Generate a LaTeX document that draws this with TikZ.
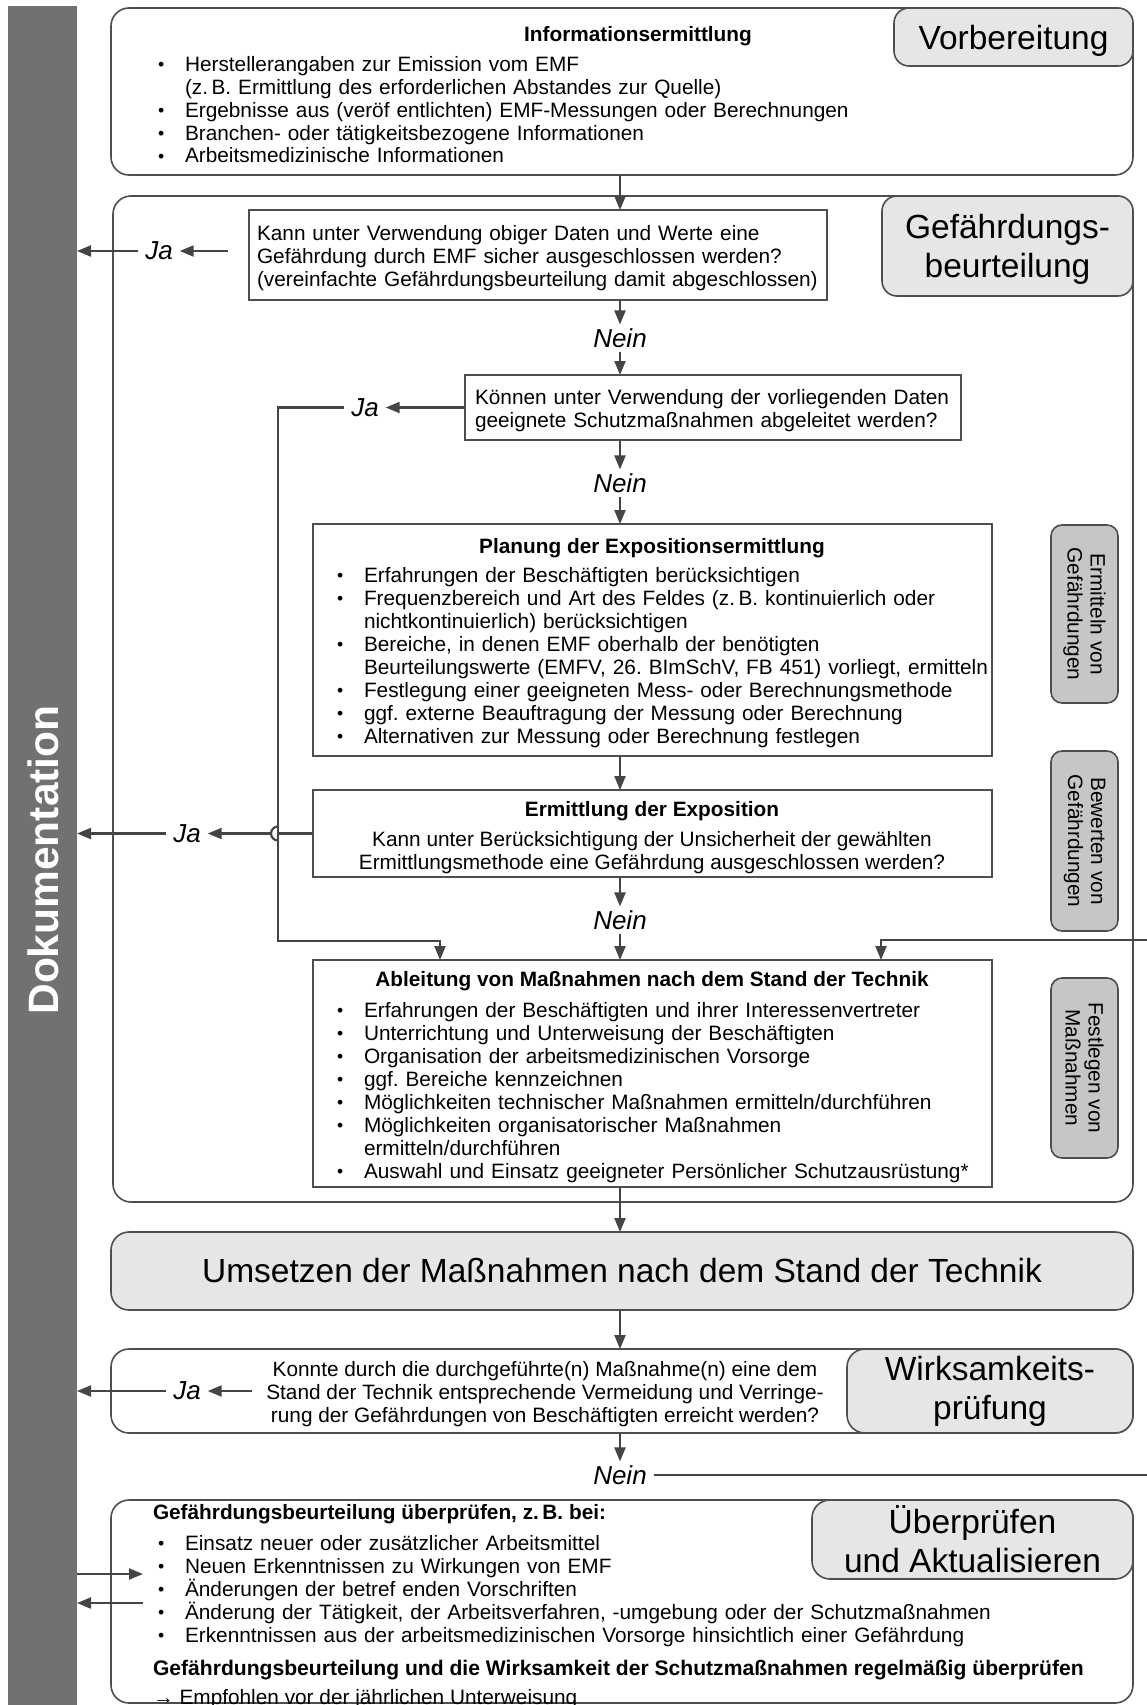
\documentclass[tikz,border=0pt]{standalone}
\usepackage{fontspec}
\setmainfont{Liberation Sans}
\usetikzlibrary{arrows.meta,calc}
\definecolor{ln}{HTML}{454545}
\definecolor{bx}{HTML}{4E4E4E}
\definecolor{lab}{HTML}{E6E6E6}
\definecolor{side}{HTML}{C6C6C6}
\definecolor{docg}{HTML}{717171}
\frenchspacing
\newcommand\bodyfont{\fontsize{20.8}{23}\selectfont}
\newcommand\bigfont{\fontsize{33.5}{39}\selectfont}
\newcommand\fs{\rule{0pt}{17pt}}
\newcommand\bitem[1]{\par\noindent\hangindent=28pt\hangafter=1\makebox[28pt][l]{\hspace{1pt}\raisebox{1pt}{\scalebox{0.85}{\textbullet}}}#1}
\begin{document}
\begin{tikzpicture}[x=1pt,y=-1pt,
  every node/.style={inner sep=0pt, outer sep=0pt},
  bigbox/.style={draw=bx, line width=1.6pt, rounded corners=18pt, fill=white},
  labbox/.style={draw=bx, line width=1.6pt, rounded corners=15pt, fill=lab, font=\bigfont, align=center},
  sidebox/.style={draw=bx, line width=1.6pt, rounded corners=11pt, fill=side, font=\bodyfont, align=center, rotate=-90},
  qbox/.style={draw=bx, line width=1.6pt, fill=white},
  txt/.style={font=\bodyfont, align=left, anchor=north west},
  ttl/.style={font=\bodyfont\bfseries},
  yn/.style={font=\fontsize{26}{26}\selectfont\itshape, inner xsep=7pt, inner ysep=4pt},
  conn/.style={draw=ln, line width=2.2pt, -{Triangle[length=14pt,width=11pt]}},
  plain/.style={draw=ln, line width=2.2pt}]
\path[use as bounding box, fill=white] (0,0) rectangle (1147,1705);

% Dokumentation bar
\node[fill=docg, minimum width=69, minimum height=1706] (doc) at (42.5,859) {};
\node[rotate=90, text=white, font=\fontsize{42.5}{42.5}\selectfont\bfseries] (doct) at (43,860) {Dokumentation};

% Vorbereitung
\node[bigbox, minimum width=1022, minimum height=167] (vorb) at (622,91.5) {};
\node[labbox, minimum width=239, minimum height=58] (vorbl) at (1013.5,37) {\rule{0pt}{32.5pt}Vorbereitung};
\node[ttl] (infot) at (638,36) {Informationsermittlung};
\node[txt, text width=760] (infol) at (157,48) {%
\bitem{\fs Herstellerangaben zur Emission vom EMF\newline (z.\,B. Ermittlung des erforderlichen Abstandes zur Quelle)}%
\bitem{Ergebnisse aus (veröf entlichten) EMF-Messungen oder Berechnungen}%
\bitem{Branchen- oder tätigkeitsbezogene Informationen}%
\bitem{Arbeitsmedizinische Informationen}};

% Gefaehrdungsbeurteilung
\node[bigbox, minimum width=1020, minimum height=1006] (gef) at (623,699) {};
\node[labbox, minimum width=251, minimum height=100] (gefl) at (1007.5,246) {\rule{0pt}{31pt}Gefährdungs-\\beurteilung};

\node[qbox, minimum width=578, minimum height=90] (q1) at (538,255) {};
\node[txt, text width=570] (q1t) at (257,223) {\fs Kann unter Verwendung obiger Daten und Werte eine\\Gefährdung durch EMF sicher ausgeschlossen werden?\\(vereinfachte Gefährdungsbeurteilung damit abgeschlossen)};
\node[yn] (ja1) at (159,251) {Ja};
\node[yn] (nein1) at (620,338) {Nein};

\node[qbox, minimum width=496, minimum height=65] (q2) at (713,407.5) {};
\node[txt, text width=480] (q2t) at (475,387) {\fs Können unter Verwendung der vorliegenden Daten\\geeignete Schutzmaßnahmen abgeleitet werden?};
\node[yn] (ja2) at (365,407.5) {Ja};
\node[yn] (nein2) at (620,483) {Nein};

\node[qbox, minimum width=679, minimum height=232] (plan) at (652.5,640) {};
\node[ttl] (plant) at (652,548) {Planung der Expositionsermittlung};
\node[txt, text width=680] (planl) at (336,559) {%
\bitem{\fs Erfahrungen der Beschäftigten berücksichtigen}%
\bitem{Frequenzbereich und Art des Feldes (z.\,B. kontinuierlich oder\newline nichtkontinuierlich) berücksichtigen}%
\bitem{Bereiche, in denen EMF oberhalb der benötigten\newline Beurteilungswerte (EMFV, 26.~BImSchV, FB 451) vorliegt, ermitteln}%
\bitem{Festlegung einer geeigneten Mess- oder Berechnungsmethode}%
\bitem{ggf. externe Beauftragung der Messung oder Berechnung}%
\bitem{Alternativen zur Messung oder Berechnung festlegen}};

\node[qbox, minimum width=679, minimum height=87] (erm) at (652.5,833.5) {};
\node[ttl] (ermt) at (652,811) {Ermittlung der Exposition};
\node[font=\bodyfont, align=center, anchor=north] (ermq) at (652,829) {\fs Kann unter Berücksichtigung der Unsicherheit der gewählten\\Ermittlungsmethode eine Gefährdung ausgeschlossen werden?};
\node[yn] (ja3) at (187,833.5) {Ja};
\node[yn] (nein3) at (620,920) {Nein};

\node[qbox, minimum width=679, minimum height=227] (abl) at (652.5,1073.5) {};
\node[ttl] (ablt) at (652,981) {Ableitung von Maßnahmen nach dem Stand der Technik};
\node[txt, text width=680] (abll) at (336,994) {%
\bitem{\fs Erfahrungen der Beschäftigten und ihrer Interessenvertreter}%
\bitem{Unterrichtung und Unterweisung der Beschäftigten}%
\bitem{Organisation der arbeitsmedizinischen Vorsorge}%
\bitem{ggf. Bereiche kennzeichnen}%
\bitem{Möglichkeiten technischer Maßnahmen ermitteln/durchführen}%
\bitem{Möglichkeiten organisatorischer Maßnahmen\newline ermitteln/durchführen}%
\bitem{Auswahl und Einsatz geeigneter Persönlicher Schutzausrüstung*}};

\node[sidebox, minimum width=178, minimum height=67] (s1) at (1084.5,614) {Ermitteln von\\Gefährdungen};
\node[sidebox, minimum width=180, minimum height=67] (s2) at (1084.5,841) {Bewerten von\\Gefährdungen};
\node[sidebox, minimum width=180, minimum height=67] (s3) at (1084.5,1068) {Festlegen von\\Maßnahmen};

% Umsetzen
\node[labbox, minimum width=1022, minimum height=78, rounded corners=18pt] (ums) at (622,1271) {Umsetzen der Maßnahmen nach dem Stand der Technik};

% Wirksamkeitspruefung
\node[bigbox, minimum width=1022, minimum height=84] (wirk) at (622,1391) {};
\node[labbox, minimum width=286, minimum height=84, rounded corners=18pt] (wirkl) at (990,1391) {Wirksamkeits-\\prüfung};
\node[font=\bodyfont, align=center, anchor=north] (wirkq) at (545,1359) {\fs Konnte durch die durchgeführte(n) Maßnahme(n) eine dem\\Stand der Technik entsprechende Vermeidung und Verringe-\\rung der Gefährdungen von Beschäftigten erreicht werden?};
\node[yn] (ja4) at (187,1391) {Ja};
\node[yn] (nein4) at (620,1475) {Nein};

% Ueberpruefen
\node[bigbox, minimum width=1022, minimum height=203] (ueb) at (622,1601.5) {};
\node[labbox, minimum width=321, minimum height=79, rounded corners=18pt] (uebl) at (972.5,1539.5) {Überprüfen\\und Aktualisieren};
\node[txt, font=\bodyfont\bfseries] (uebt) at (153,1502) {\fs Gefährdungsbeurteilung überprüfen, z.\,B. bei:};
\node[txt, text width=900] (uebli) at (157,1527) {%
\bitem{\fs Einsatz neuer oder zusätzlicher Arbeitsmittel}%
\bitem{Neuen Erkenntnissen zu Wirkungen von EMF}%
\bitem{Änderungen der betref enden Vorschriften}%
\bitem{Änderung der Tätigkeit, der Arbeitsverfahren, -umgebung oder der Schutzmaßnahmen}%
\bitem{Erkenntnissen aus der arbeitsmedizinischen Vorsorge hinsichtlich einer Gefährdung}};
\node[txt, font=\fontsize{21.1}{23}\selectfont\bfseries] (uebt2) at (153,1658) {\fs Gefährdungsbeurteilung und die Wirksamkeit der Schutzmaßnahmen regelmäßig überprüfen};
\node[txt] (uebt3) at (153,1687) {\fs → Empfohlen vor der jährlichen Unterweisung};

% connectors
\coordinate (ja1s) at (228,251);
\coordinate (lx) at (278,941);
\coordinate (ablin1) at (440,960);
\coordinate (hop) at (278,833.5);
\coordinate (rx) at (1170,940);
\coordinate (ablin3) at (881,960);
\coordinate (ja4s) at (252,1391);
\coordinate (ubin) at (143,1574);
\coordinate (ubout) at (143,1603);

\draw[conn] (vorb.south -| nein1) -- (q1.north -| nein1);
\draw[conn] (q1.south -| nein1) -- (nein1.north);
\draw[conn] (nein1.south) -- (q2.north -| nein1);
\draw[conn] (ja1s) -- (ja1.east);
\draw[conn] (ja1.west) -- (ja1.west -| doc.east);

\draw[conn] (q2.west) -- (ja2.east);
\draw[conn] (ja2.west) -| (lx) -| (ablin1);
\draw[conn] (q2.south -| nein2) -- (nein2.north);
\draw[conn] (nein2.south) -- (plan.north -| nein2);
\draw[conn] (plan.south -| nein2) -- (erm.north -| nein2);

\draw[plain] (erm.west) -- (hop);
\draw[plain] ($(hop)+(0,-7)$) arc[start angle=270, end angle=90, radius=7];
\draw[conn] ($(hop)+(-7,0)$) -- (ja3.east);
\draw[conn] (ja3.west) -- (ja3.west -| doc.east);
\draw[conn] (erm.south -| nein3) -- (nein3.north);
\draw[conn] (nein3.south) -- (abl.north -| nein3);

\draw[conn] (abl.south -| nein3) -- (ums.north -| nein3);
\draw[conn] (ums.south -| nein3) -- (wirk.north -| nein3);
\draw[conn] (ja4s) -- (ja4.east);
\draw[conn] (ja4.west) -- (ja4.west -| doc.east);
\draw[conn] (wirk.south -| nein4) -- (nein4.north);
\draw[conn] (nein4.east) -| (rx) -| (ablin3);

\draw[conn] (doc.east |- ubin) -- (ubin);
\draw[conn] (ubout) -- (doc.east |- ubout);
\end{tikzpicture}
\end{document}
